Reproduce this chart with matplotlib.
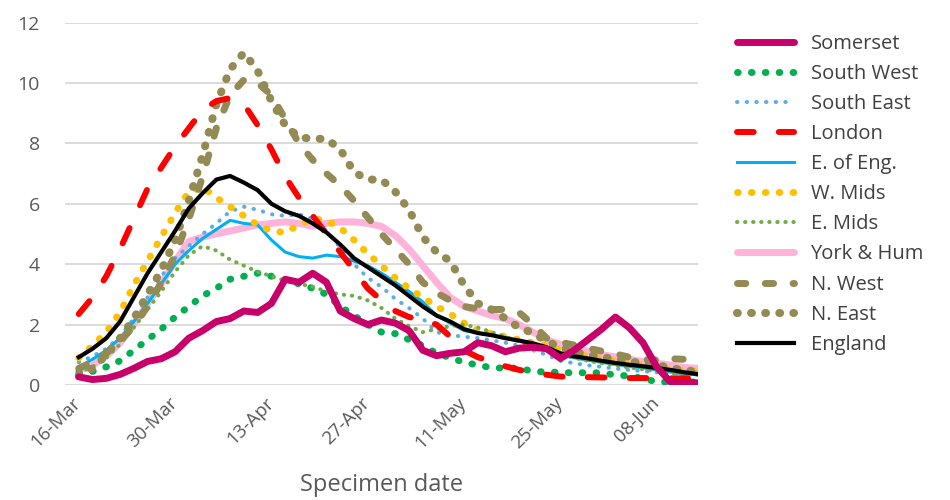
import numpy as np
import pandas as pd
import matplotlib
matplotlib.use("Agg")
import matplotlib.pyplot as plt
import matplotlib.dates as mdates

# rolling rate per 100k, sampled every 2 days from 17-Mar to 15-Jun
dates = pd.date_range("2020-03-17", periods=46, freq="2D")

somerset = [0.27, 0.18, 0.22, 0.35, 0.55, 0.78, 0.87, 1.1, 1.55, 1.8, 2.1, 2.2, 2.45, 2.4, 2.7,
            3.5, 3.4, 3.7, 3.4, 2.45, 2.2, 2.0, 2.15, 2.05, 1.8, 1.15, 0.97, 1.05, 1.1, 1.4,
            1.3, 1.1, 1.22, 1.25, 1.2, 0.88, 1.15, 1.5, 1.85, 2.25, 1.9, 1.4, 0.6, 0.1, 0.08, 0.07]
south_west = [0.4, 0.45, 0.6, 0.8, 1.15, 1.5, 1.85, 2.25, 2.6, 2.95, 3.2, 3.5, 3.6, 3.7, 3.6,
              3.45, 3.35, 3.2, 3.0, 2.6, 2.3, 2.0, 1.75, 1.7, 1.5, 1.3, 1.05, 0.9, 0.75, 0.66,
              0.57, 0.56, 0.56, 0.45, 0.43, 0.42, 0.4, 0.41, 0.4, 0.33, 0.3, 0.22, 0.1, 0.1, 0.1, 0.1]
south_east = [0.75, 0.95, 1.2, 1.6, 2.2, 2.9, 3.6, 4.2, 4.6, 5.0, 5.35, 5.75, 5.9, 5.8, 5.65,
              5.6, 5.65, 5.5, 5.1, 4.55, 4.0, 3.55, 3.25, 2.85, 2.55, 2.2, 1.75, 1.65, 1.6, 1.55,
              1.48, 1.4, 1.3, 1.15, 1.0, 0.8, 0.72, 0.65, 0.6, 0.54, 0.5, 0.46, 0.42, 0.4, 0.37, 0.35]
london = [2.35, 2.9, 3.6, 4.5, 5.5, 6.5, 7.2, 7.9, 8.5, 9.1, 9.4, 9.5, 9.3, 8.6, 7.8,
          6.9, 6.2, 5.6, 5.0, 4.4, 3.8, 3.2, 2.8, 2.45, 2.25, 2.15, 2.0, 1.6, 1.15, 0.92,
          0.78, 0.62, 0.5, 0.42, 0.34, 0.28, 0.27, 0.26, 0.25, 0.24, 0.23, 0.23, 0.23, 0.22, 0.22, 0.2]
e_of_eng = [0.6, 0.85, 1.15, 1.55, 2.1, 2.7, 3.35, 4.0, 4.45, 4.85, 5.15, 5.45, 5.35, 5.3, 4.8,
            4.4, 4.25, 4.2, 4.3, 4.25, 4.1, 3.95, 3.7, 3.4, 3.1, 2.75, 2.3, 2.05, 1.8, 1.72,
            1.65, 1.55, 1.45, 1.35, 1.2, 1.0, 0.9, 0.82, 0.75, 0.68, 0.62, 0.57, 0.5, 0.43, 0.36, 0.34]
w_mids = [0.9, 1.3, 1.75, 2.4, 3.3, 4.1, 4.9, 5.7, 6.4, 6.55, 6.2, 5.9, 5.6, 5.3, 5.1,
          5.05, 5.3, 5.5, 5.45, 5.2, 4.8, 4.35, 3.95, 3.55, 3.2, 2.9, 2.6, 2.35, 2.05, 1.8,
          1.7, 1.6, 1.5, 1.4, 1.3, 1.15, 1.05, 0.95, 0.87, 0.8, 0.73, 0.67, 0.6, 0.54, 0.47, 0.44]
e_mids = [0.4, 0.6, 0.9, 1.35, 1.9, 2.5, 3.1, 3.75, 4.3, 4.6, 4.45, 4.15, 3.95, 3.75, 3.6,
          3.45, 3.35, 3.25, 3.1, 3.0, 2.95, 2.8, 2.55, 2.2, 1.95, 1.75, 1.85, 1.95, 2.0, 1.9,
          1.75, 1.6, 1.45, 1.3, 1.15, 1.0, 0.9, 0.8, 0.72, 0.65, 0.58, 0.52, 0.46, 0.4, 0.35, 0.33]
york_hum = [0.5, 0.65, 0.95, 1.4, 2.0, 2.7, 3.35, 4.1, 4.75, 4.9, 5.0, 5.1, 5.2, 5.3, 5.35,
            5.4, 5.35, 5.25, 5.35, 5.4, 5.4, 5.35, 5.25, 4.95, 4.5, 3.95, 3.4, 2.9, 2.6, 2.45,
            2.3, 2.2, 2.0, 1.75, 1.5, 1.35, 1.22, 1.12, 1.0, 0.93, 0.85, 0.78, 0.72, 0.66, 0.58, 0.55]
n_west = [0.55, 0.75, 1.05, 1.45, 1.95, 2.6, 3.4, 4.3, 5.5, 6.9, 8.5, 9.6, 10.1, 10.0, 9.6,
          8.8, 8.0, 7.45, 7.0, 6.6, 6.1, 5.55, 5.0, 4.5, 4.0, 3.4, 3.05, 2.8, 2.6, 2.52,
          2.5, 2.5, 2.4, 2.0, 1.55, 1.42, 1.32, 1.22, 1.12, 1.03, 0.92, 0.84, 0.83, 0.87, 0.85, 0.82]
n_east = [0.3, 0.55, 1.0, 1.55, 2.2, 3.0, 3.8, 4.8, 6.1, 7.6, 9.3, 10.45, 11.0, 10.4, 9.4,
          8.6, 8.2, 8.15, 8.15, 7.8, 7.05, 6.8, 6.8, 6.4, 5.8, 4.9, 4.4, 4.1, 3.3, 2.7,
          2.5, 2.2, 1.9, 1.72, 1.45, 1.25, 1.1, 1.0, 0.93, 0.85, 0.78, 0.72, 0.66, 0.57, 0.48, 0.45]
england = [0.92, 1.2, 1.55, 2.1, 2.9, 3.7, 4.4, 5.1, 5.85, 6.35, 6.8, 6.92, 6.7, 6.45, 6.0,
           5.75, 5.6, 5.35, 5.05, 4.65, 4.2, 3.9, 3.6, 3.3, 2.95, 2.6, 2.3, 2.1, 1.85, 1.72,
           1.65, 1.55, 1.47, 1.38, 1.25, 1.05, 0.95, 0.88, 0.8, 0.73, 0.67, 0.62, 0.56, 0.5, 0.42, 0.36]

plt.rcParams['font.family'] = ['Open Sans', 'DejaVu Sans']

fig = plt.figure(figsize=(9.5, 5), dpi=100)
ax = fig.add_axes([65 / 950, 1 - 385 / 500, (698 - 65) / 950, (385 - 22.5) / 500])

dot = lambda g: (0, (0.1, g))

ax.plot(dates, south_west, color='#00B050', lw=5.0, ls=dot(1.9), dash_capstyle='round', label='South West', zorder=3)
ax.plot(dates, south_east, color='#5DADE2', lw=2.9, ls=dot(2.3), dash_capstyle='round', label='South East', zorder=3)
ax.plot(dates, london, color='#FF0000', lw=4.3, ls=(0, (2.8, 4.2)), dash_capstyle='round', label='London', zorder=4)
ax.plot(dates, e_of_eng, color='#00B0F0', lw=2.2, label='E. of Eng.', zorder=3)
ax.plot(dates, w_mids, color='#FFC000', lw=5.0, ls=dot(1.9), dash_capstyle='round', label='W. Mids', zorder=3)
ax.plot(dates, e_mids, color='#70AD47', lw=2.9, ls=dot(1.9), dash_capstyle='round', label='E. Mids', zorder=3)
ax.plot(dates, york_hum, color='#FFB3DA', lw=5.0, solid_capstyle='round', label='York & Hum', zorder=2)
ax.plot(dates, n_west, color='#948A54', lw=5.0, ls=(0, (1.2, 2.8)), dash_capstyle='round', label='N. West', zorder=3)
ax.plot(dates, n_east, color='#948A54', lw=5.8, ls=dot(1.65), dash_capstyle='round', label='N. East', zorder=3)
ax.plot(dates, england, color='black', lw=3.0, label='England', zorder=5)
ax.plot(dates, somerset, color='#C8006A', lw=5.0, solid_capstyle='round', label='Somerset', zorder=6)

ax.set_ylim(0, 12)
ax.set_yticks(range(0, 13, 2))
ax.set_xlim(pd.Timestamp("2020-03-15"), dates[-1])
ax.set_xticks(pd.date_range("2020-03-16", periods=7, freq="14D"))
ax.xaxis.set_major_formatter(mdates.DateFormatter("%d-%b"))
ax.grid(axis='y', color='#D9D9D9', lw=1.3)
ax.set_axisbelow(True)
for s in ax.spines.values():
    s.set_visible(False)
ax.tick_params(length=0, labelsize=13.5, labelcolor='#595959')
ax.tick_params(axis='y', pad=18, labelsize=14)
ax.tick_params(axis='x', pad=6.5)
for lab in ax.get_xticklabels():
    lab.set_rotation(45)
    lab.set_ha('right')
    lab.set_rotation_mode('anchor')
ax.set_xlabel("Specimen date", fontsize=17, color='#595959', labelpad=15)

order = ['Somerset', 'South West', 'South East', 'London', 'E. of Eng.', 'W. Mids', 'E. Mids',
         'York & Hum', 'N. West', 'N. East', 'England']
h, l = ax.get_legend_handles_labels()
hd = dict(zip(l, h))
fig.legend([hd[k] for k in order], order, loc='upper left', bbox_to_anchor=(737 / 950, 1 - 34 / 500),
           frameon=False, fontsize=14.5, labelcolor='#404040', handlelength=2.85, handletextpad=0.8,
           labelspacing=0.5, borderpad=0, borderaxespad=0)

fig.savefig("out.png", dpi=100)
